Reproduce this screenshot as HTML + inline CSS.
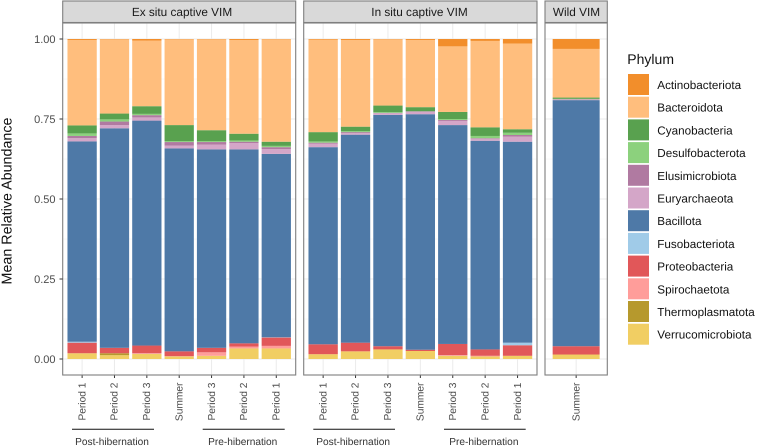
<!DOCTYPE html>
<html lang="en">
<head>
<meta charset="utf-8">
<title>Mean Relative Abundance by Phylum</title>
<style>
  html, body { margin: 0; padding: 0; background: #fff; }
  body { width: 757px; height: 447px; overflow: hidden; }
  svg { display: block; font-family: "Liberation Sans", sans-serif; text-rendering: geometricPrecision; filter: blur(0.35px); }
</style>
</head>
<body>
<svg id="chart" xmlns="http://www.w3.org/2000/svg" width="757" height="447" viewBox="0 0 757 447"></svg>
<script>
const phyla = ["Actinobacteriota","Bacteroidota","Cyanobacteria","Desulfobacterota","Elusimicrobiota","Euryarchaeota","Bacillota","Fusobacteriota","Proteobacteria","Spirochaetota","Thermoplasmatota","Verrucomicrobiota"];
const phylumColors = ["#F28E2B","#FFBE7D","#59A14F","#8CD17D","#B07AA1","#D4A6C8","#4E79A7","#A0CBE8","#E15759","#FF9D9A","#B6992D","#F1CE63"];
const captiveCategories = ["Period 1","Period 2","Period 3","Summer","Period 3","Period 2","Period 1"];
const wildCategories = ["Summer"];
const yTicks = [0, 0.25, 0.5, 0.75, 1];
const yTickLabels = ["0.00","0.25","0.50","0.75","1.00"];
const yMinorTicks = [0.125, 0.375, 0.625, 0.875];
// each row follows the order of the phyla array
const exSituValues = [
  [.003,.267,.025,.008,.007,.010,.626,.003,.033,0,0,.018],
  [.001,.232,.018,.007,.011,.010,.686,0,.017,0,.006,.012],
  [.005,.205,.024,.004,.007,.010,.703,0,.024,.002,0,.016],
  [.001,.268,.050,.003,.011,.009,.634,0,.015,.001,0,.008],
  [.001,.284,.034,.003,.008,.015,.620,0,.014,.011,0,.010],
  [.003,.293,.021,.004,.004,.020,.606,0,.010,.006,0,.033],
  [.001,.320,.013,.004,.006,.015,.573,.001,.026,.008,0,.033]
];
const inSituValues = [
  [.002,.289,.029,.004,.003,.011,.616,0,.031,0,0,.015],
  [.003,.271,.014,.003,.003,.005,.650,0,.027,0,0,.024],
  [.001,.207,.021,.002,.001,.005,.723,0,.010,0,0,.030],
  [.003,.210,.012,.001,.002,.007,.736,0,.004,0,0,.025],
  [.023,.205,.022,.003,.003,.013,.684,0,.035,.002,0,.010],
  [.006,.270,.027,.007,.002,.006,.652,0,.020,.002,0,.008],
  [.014,.268,.011,.007,.005,.016,.628,.008,.033,0,0,.010]
];
const wildValues = [
  [.031,.152,.004,.001,.001,.002,.769,0,.026,0,0,.014]
];

const svg = document.getElementById('chart');
const NS = 'http://www.w3.org/2000/svg';
const PANEL_TOP = 23, PANEL_BOTTOM = 375, Y0 = 359, Y1 = 39;

function yScale(v) { return Y0 + (Y1 - Y0) * v; }
function bandStep(left, right, n) { return (right - left) / (n - 1 + 1.2); }
function xScale(left, right, n, i) { return left + (0.6 + i) * bandStep(left, right, n); }

function mk(tag, attrs, parent) {
  const el = document.createElementNS(NS, tag);
  for (const k in attrs) el.setAttribute(k, attrs[k]);
  (parent || svg).appendChild(el);
  return el;
}
function label(txt, attrs, parent) {
  const el = mk('text', attrs, parent);
  el.textContent = txt;
  return el;
}

function drawPanel(title, left, right, categories, values, key, titleCenter) {
  const g = mk('g', {});
  
  

  const strip = mk('rect', {x: left, y: 1, width: right - left, height: 21.5, fill: '#d9d9d9', stroke: '#7f7f7f', 'stroke-width': 1.1}, g);
  
  

  const stripText = label(title, {x: titleCenter, y: 16.2, 'text-anchor': 'middle', 'font-size': 11.8, fill: '#1a1a1a'}, g);
  
  

  yMinorTicks.forEach(function (t) {
    const l = mk('line', {x1: left, x2: right, y1: yScale(t), y2: yScale(t), stroke: '#f0f0f0', 'stroke-width': 0.5}, g);
    
    
  });
  yTicks.forEach(function (t) {
    const l = mk('line', {x1: left, x2: right, y1: yScale(t), y2: yScale(t), stroke: '#ebebeb', 'stroke-width': 1}, g);
    
    
  });
  categories.forEach(function (c, i) {
    const x = xScale(left, right, categories.length, i);
    const l = mk('line', {x1: x, x2: x, y1: PANEL_TOP, y2: PANEL_BOTTOM, stroke: '#ebebeb', 'stroke-width': 1}, g);
    
    
  });

  const w = bandStep(left, right, categories.length) * 0.905;
  categories.forEach(function (c, i) {
    const cx = xScale(left, right, categories.length, i);
    let cum = 0;
    for (let p = phyla.length - 1; p >= 0; p--) {
      const v = values[i][p];
      const top = yScale(cum + v), bottom = yScale(cum);
      const r = mk('rect', {x: cx - w / 2, y: top, width: w, height: bottom - top, fill: phylumColors[p]}, g);
      
      
      cum += v;
    }
    const tick = mk('line', {x1: cx, x2: cx, y1: PANEL_BOTTOM, y2: PANEL_BOTTOM + 3, stroke: '#333', 'stroke-width': 1}, g);
    
    
    const t = label(c, {transform: 'translate(' + (cx + 3.2) + ',382.6) rotate(-90)', 'text-anchor': 'end', 'font-size': 10.2, fill: '#4d4d4d'}, g);
    
    
  });

  const border = mk('rect', {x: left, y: PANEL_TOP, width: right - left, height: PANEL_BOTTOM - PANEL_TOP, fill: 'none', stroke: '#7f7f7f', 'stroke-width': 1.1}, g);
  
  
}

drawPanel('Ex situ captive VIM', 62.7, 295.7, captiveCategories, exSituValues, 'ex-situ', 182);
drawPanel('In situ captive VIM', 303.7, 537, captiveCategories, inSituValues, 'in-situ', 419.5);
drawPanel('Wild VIM', 545, 607.3, wildCategories, wildValues, 'wild', 576.5);

yTicks.forEach(function (t, i) {
  const tick = mk('line', {x1: 59.5, x2: 62.7, y1: yScale(t), y2: yScale(t), stroke: '#333', 'stroke-width': 1});
  
  
  const l = label(yTickLabels[i], {x: 55.5, y: yScale(t) + 4, 'text-anchor': 'end', 'font-size': 11, fill: '#4d4d4d'});
  
  
});

const yTitle = label('Mean Relative Abundance', {transform: 'translate(11.5,201) rotate(-90)', 'text-anchor': 'middle', 'font-size': 14.3, fill: '#111'});



function drawGroup(txt, x1, x2, key) {
  const l = mk('line', {x1: x1, x2: x2, y1: 429.3, y2: 429.3, stroke: '#111', 'stroke-width': 1});
  
  
  const t = label(txt, {x: (x1 + x2) / 2 - 1, y: 445, 'text-anchor': 'middle', 'font-size': 10.15, fill: '#333'});
  
  
}
drawGroup('Post-hibernation', 72, 154, 'ex-situ-post');
drawGroup('Pre-hibernation', 202.7, 284.7, 'ex-situ-pre');
drawGroup('Post-hibernation', 313.3, 395, 'in-situ-post');
drawGroup('Pre-hibernation', 444, 525.7, 'in-situ-pre');

const legendTitle = label('Phylum', {x: 627.3, y: 64, 'font-size': 14, fill: '#111'});



phyla.forEach(function (name, i) {
  const y = 74 + i * 22.7;
  const g = mk('g', {});
  
  
  const s = mk('rect', {x: 628, y: y, width: 21, height: 21, fill: phylumColors[i]}, g);
  
  
  const t = label(name, {x: 657.3, y: y + 15, 'font-size': 11.7, fill: '#111'}, g);
  
  
});
</script>
</body>
</html>
